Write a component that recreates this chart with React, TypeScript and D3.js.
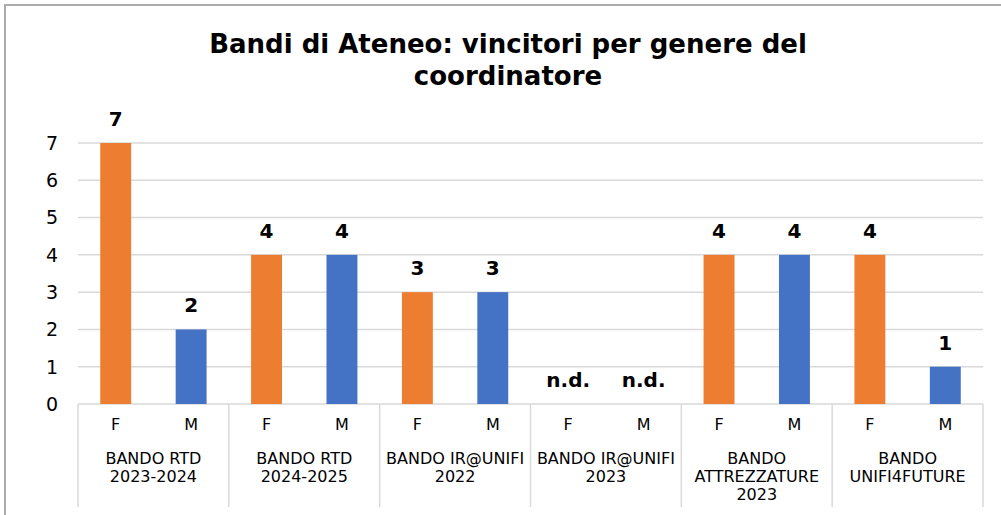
import React from 'react';
import { scaleBand, scaleLinear, range } from 'd3';

// data
const categories: string[][] = [
    ['BANDO RTD', '2023-2024'],
    ['BANDO RTD', '2024-2025'],
    ['BANDO IR@UNIFI', '2022'],
    ['BANDO IR@UNIFI', '2023'],
    ['BANDO', 'ATTREZZATURE', '2023'],
    ['BANDO', 'UNIFI4FUTURE']
];
const genders = ['F', 'M'];
const femmine: (number | null)[] = [7, 4, 3, null, 4, 4];
const maschi: (number | null)[] = [2, 4, 3, null, 4, 1];
const yTicks = [0, 1, 2, 3, 4, 5, 6, 7];
const titleLines = ['Bandi di Ateneo: vincitori per genere del', 'coordinatore'];

const colors: Record<string, string> = { F: '#ED7D31', M: '#4472C4' };

const width = 1001;
const height = 515;
const marginLeft = 78;
const marginRight = 18;
const plotTop = 143;
const plotBottom = 404;

const font = '"DejaVu Sans", Verdana, sans-serif';

const App = () => {
    const x0 = scaleBand<number>()
        .domain(categories.map((_, i) => i))
        .range([marginLeft, width - marginRight])
        .padding(0);

    const x1 = scaleBand<string>()
        .domain(genders)
        .range([0, x0.bandwidth()])
        .paddingInner(0.59)
        .paddingOuter(0.295);

    const y = scaleLinear().domain([0, 7]).range([plotBottom, plotTop]);

    const bars = categories.flatMap((_, i) => [
        { g: 'F', i, v: femmine[i] },
        { g: 'M', i, v: maschi[i] }
    ]);

    const right = width - marginRight;
    const dividers = range(categories.length + 1).map((i) =>
        i < categories.length ? (x0(i) as number) : right
    );

    return (
        <svg
            width={width}
            height={height}
            style={{ position: 'absolute', left: 0, top: 0, background: '#fff' }}
            fontFamily={font}
        >
            <rect x={5} y={5} width={1020} height={530} fill="#fff" stroke="#ADADAD" strokeWidth={2} />

            {titleLines.map((t, k) => (
                <text
                    key={t}
                    x={508}
                    y={53 + k * 32}
                    textAnchor="middle"
                    fontSize={26}
                    fontWeight="bold"
                    fill="#000"
                >
                    {t}
                </text>
            ))}

            {/* grid */}
            {yTicks.map((t) => (
                <g key={t}>
                    <line x1={marginLeft} x2={right} y1={y(t)} y2={y(t)} stroke="#D9D9D9" strokeWidth={1.5} />
                    <text x={58} y={y(t)} dy="0.36em" textAnchor="end" fontSize={19} fill="#000">
                        {t}
                    </text>
                </g>
            ))}

            {/* category dividers */}
            {dividers.map((d, k) => (
                <line key={k} x1={d} x2={d} y1={plotBottom} y2={507} stroke="#D9D9D9" strokeWidth={1.5} />
            ))}

            {/* bars */}
            {bars.map((b) => {
                const bx = (x0(b.i) as number) + (x1(b.g) as number);
                const cx = bx + x1.bandwidth() / 2;
                const v = b.v;
                return (
                    <g key={`${b.i}-${b.g}`}>
                        {v !== null && (
                            <rect
                                x={bx}
                                y={y(v)}
                                width={x1.bandwidth()}
                                height={plotBottom - y(v)}
                                fill={colors[b.g]}
                            />
                        )}
                        <text
                            x={cx}
                            y={y(v ?? 0) - 17}
                            textAnchor="middle"
                            fontSize={20}
                            fontWeight="bold"
                            fill="#000"
                        >
                            {v === null ? 'n.d.' : v}
                        </text>
                        <text x={cx} y={430} textAnchor="middle" fontSize={16} fill="#000">
                            {b.g}
                        </text>
                    </g>
                );
            })}

            {/* category labels */}
            {categories.map((lines, i) => (
                <text
                    key={i}
                    x={(x0(i) as number) + x0.bandwidth() / 2}
                    y={464}
                    textAnchor="middle"
                    fontSize={16}
                    fill="#000"
                >
                    {lines.map((l, k) => (
                        <tspan key={k} x={(x0(i) as number) + x0.bandwidth() / 2} dy={k === 0 ? 0 : 18}>
                            {l}
                        </tspan>
                    ))}
                </text>
            ))}
        </svg>
    );
};

export default App;
